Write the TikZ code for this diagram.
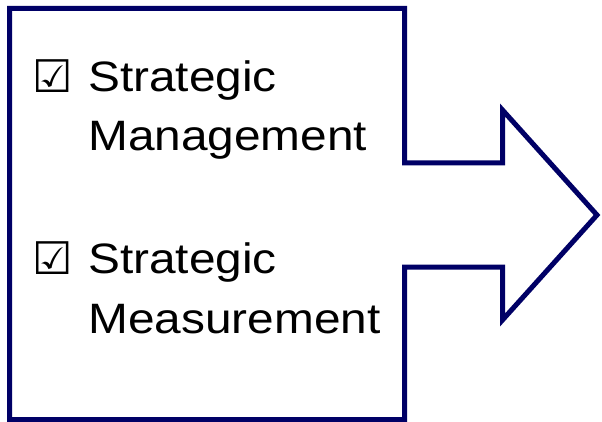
\documentclass[tikz,border=0pt]{standalone}
\usepackage{fontspec}
\setmainfont{Liberation Sans}
\newfontfamily\symfont{DejaVu Sans}
\definecolor{navyline}{RGB}{0,0,102}
\begin{document}
\begin{tikzpicture}[x=1pt,y=-1pt,
  outline/.style={draw=navyline,line width=5pt,line join=miter,fill=white},
  label/.style={anchor=base west,inner sep=0pt,font=\fontsize{42.5}{42.5}\selectfont},
  tick/.style={anchor=base west,inner sep=0pt,font=\symfont\fontsize{45}{45}\selectfont}]
\useasboundingbox[fill=white] (0,0) rectangle (602,422);
% box with the arrow coming out of its right side
\draw[outline] (9.5,8.5) -- (404.5,8.5) -- (404.5,163) -- (502.5,163) -- (502.5,110)
  -- (597,215) -- (502.5,320) -- (502.5,267) -- (404.5,267) -- (404.5,419.5)
  -- (9.5,419.5) -- cycle;
% first item
\node[tick] (c1) at (32,93) {☑};
\node[label] (t1a) at (88,91.5) {\scalebox{1.125}[1]{Strategic}};
\node[label] (t1b) at (88,150.5) {\scalebox{1.125}[1]{Management}};
% second item
\node[tick] (c2) at (32,274) {☑};
\node[label] (t2a) at (88,273) {\scalebox{1.125}[1]{Strategic}};
\node[label] (t2b) at (88,333) {\scalebox{1.125}[1]{Measurement}};
\end{tikzpicture}
\end{document}
